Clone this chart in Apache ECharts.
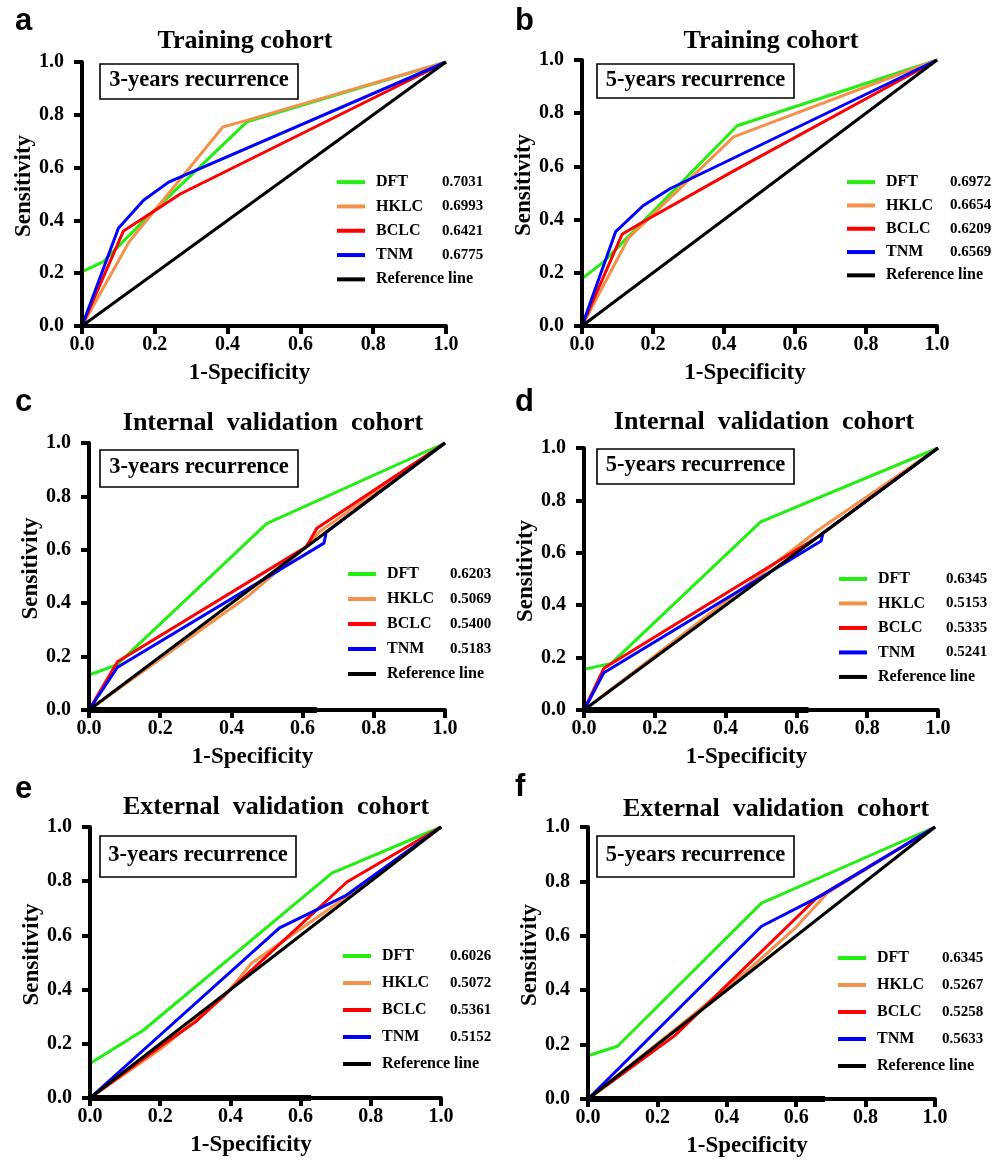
<!DOCTYPE html>
<html>
<head>
<meta charset="utf-8">
<script src="https://cdn.jsdelivr.net/npm/echarts@6/dist/echarts.min.js"></script>
<style>
  html, body { margin: 0; padding: 0; background: #fff; }
  #roc { width: 1003px; height: 1161px; }
</style>
</head>
<body>
<div id="roc"></div>
<script>
// panel labels and texts
var letters = ['a', 'b', 'c', 'd', 'e', 'f'];
var titles = ['Training cohort', 'Training cohort',
  'Internal  validation  cohort', 'Internal  validation  cohort',
  'External  validation  cohort', 'External  validation  cohort'];
var insets = ['3-years recurrence', '5-years recurrence', '3-years recurrence',
  '5-years recurrence', '3-years recurrence', '5-years recurrence'];
var models = ['DFT', 'HKLC', 'BCLC', 'TNM', 'Reference line'];
var ticks = [0, 0.2, 0.4, 0.6, 0.8, 1.0];

// AUC per panel (DFT, HKLC, BCLC, TNM)
var aucA = ['0.7031', '0.6993', '0.6421', '0.6775'];
var aucB = ['0.6972', '0.6654', '0.6209', '0.6569'];
var aucC = ['0.6203', '0.5069', '0.5400', '0.5183'];
var aucD = ['0.6345', '0.5153', '0.5335', '0.5241'];
var aucE = ['0.6026', '0.5072', '0.5361', '0.5152'];
var aucF = ['0.6345', '0.5267', '0.5258', '0.5633'];

// ROC points [1-specificity, sensitivity]
var dftA = [[0,0],[0,0.205],[0.06,0.245],[0.12,0.33],[0.2,0.44],[0.453,0.773],[1,1]];
var hklcA = [[0,0],[0.13,0.32],[0.387,0.754],[0.45,0.778],[1,1]];
var bclcA = [[0,0],[0.114,0.36],[0.17,0.41],[0.27,0.5],[1,1]];
var tnmA = [[0,0],[0.1,0.37],[0.169,0.476],[0.238,0.545],[1,1]];

var dftB = [[0,0],[0,0.178],[0.06,0.24],[0.437,0.753],[1,1]];
var hklcB = [[0,0],[0.131,0.331],[0.427,0.711],[1,1]];
var bclcB = [[0,0],[0.113,0.345],[0.17,0.39],[0.43,0.585],[1,1]];
var tnmB = [[0,0],[0.095,0.355],[0.172,0.452],[0.249,0.517],[1,1]];

var dftC = [[0,0],[0,0.131],[0.078,0.169],[0.499,0.698],[1,1]];
var hklcC = [[0,0],[0.45,0.43],[0.6,0.6],[0.65,0.67],[1,1]];
var bclcC = [[0,0],[0.08,0.181],[0.611,0.612],[0.64,0.681],[1,1]];
var tnmC = [[0,0],[0.08,0.16],[0.66,0.625],[0.665,0.656],[0.665,0.665],[1,1]];

var dftD = [[0,0],[0,0.155],[0.077,0.178],[0.499,0.718],[1,1]];
var hklcD = [[0,0],[0.3,0.31],[0.66,0.685],[1,1]];
var bclcD = [[0,0],[0.056,0.159],[0.66,0.66],[1,1]];
var tnmD = [[0,0],[0.056,0.142],[0.67,0.645],[0.675,0.675],[1,1]];

var dftE = [[0,0],[0,0.127],[0.152,0.25],[0.689,0.83],[1,1]];
var hklcE = [[0,0],[0.2,0.18],[0.38,0.372],[0.461,0.498],[0.73,0.742],[1,1]];
var bclcE = [[0,0],[0.2,0.19],[0.3,0.28],[0.4,0.4],[0.732,0.797],[1,1]];
var tnmE = [[0,0],[0.54,0.628],[0.73,0.748],[1,1]];

var dftF = [[0,0],[0,0.159],[0.085,0.194],[0.5,0.72],[1,1]];
var hklcF = [[0,0],[0.25,0.255],[0.467,0.48],[0.6,0.632],[0.69,0.757],[1,1]];
var bclcF = [[0,0],[0.25,0.233],[0.659,0.739],[1,1]];
var tnmF = [[0,0],[0.5,0.635],[0.668,0.745],[1,1]];

var refLine = [[0,0],[1,1]];
// thick stub along the x axis in panels c-f
var stubC = [[0,0],[0.64,0]];
var stubD = [[0,0],[0.634,0]];
var stubE = [[0,0],[0.63,0]];
var stubF = [[0,0],[0.683,0]];

var curves = [
  [dftA, hklcA, bclcA, tnmA],
  [dftB, hklcB, bclcB, tnmB],
  [dftC, hklcC, bclcC, tnmC],
  [dftD, hklcD, bclcD, tnmD],
  [dftE, hklcE, bclcE, tnmE],
  [dftF, hklcF, bclcF, tnmF]
];
var aucs = [aucA, aucB, aucC, aucD, aucE, aucF];
var stubs = [null, null, stubC, stubD, stubE, stubF];

var COLORS = ['#22ee11', '#f4914a', '#ff0000', '#0000ff', '#000000'];
var SERIF = '"Liberation Serif", "Times New Roman", serif';
var SANS = '"Liberation Sans", Arial, sans-serif';

// layout per panel
var GRIDS = [
  {left: 82, top: 62, width: 364, height: 264},
  {left: 582, top: 60, width: 355, height: 266},
  {left: 89, top: 443, width: 356, height: 267},
  {left: 584, top: 448, width: 354, height: 262},
  {left: 90, top: 827, width: 351, height: 271},
  {left: 588, top: 827, width: 347, height: 272}
];
var LETTER_POS = [[15, 21], [515, 21], [15, 402], [515, 402], [15, 789], [515, 787]];
var TITLE_POS = [[245, 41], [771, 41], [273, 423], [764, 422], [276, 807], [776, 809]];
var BOXES = [
  {x: 100, y: 64, w: 198, h: 35},
  {x: 597, y: 64, w: 197, h: 34},
  {x: 100, y: 450, w: 198, h: 37},
  {x: 597, y: 449, w: 197, h: 35},
  {x: 100, y: 836, w: 196, h: 41},
  {x: 597, y: 836, w: 197, h: 41}
];
var LEGENDS = [
  {left: 337, top: 170, row: 24.3, col: 66},
  {left: 847, top: 170.5, row: 23.3, col: 64},
  {left: 348, top: 561.5, row: 25, col: 63},
  {left: 839, top: 566.7, row: 24.5, col: 68},
  {left: 343, top: 942.5, row: 27, col: 68},
  {left: 838, top: 944.5, row: 27, col: 65}
];

var ROC = {
  chart: null,

  ini: function(){
    this.chart = echarts.init(document.getElementById('roc'), null, {renderer: 'canvas'});
    var option = {
      animation: false,
      backgroundColor: '#ffffff',
      grid: [],
      xAxis: [],
      yAxis: [],
      legend: [],
      series: [],
      graphic: []
    };
    for(var i = 0; i < 6; i++){
      this.addPanel(option, i);
    }
    this.chart.setOption(option);
  },

  axisBase: function(i){
    return {
      type: 'value',
      gridIndex: i,
      min: 0,
      max: 1,
      interval: 0.2,
      splitLine: {show: false},
      axisLine: {show: true, onZero: false, lineStyle: {color: '#000', width: 4}},
      axisTick: {show: true, length: 8, lineStyle: {color: '#000', width: 4}},
      nameTextStyle: {color: '#000', fontFamily: SERIF, fontWeight: 'bold', fontSize: 23}
    };
  },

  addPanel: function(option, i){
    var g = GRIDS[i];
    option.grid.push({left: g.left, top: g.top, width: g.width, height: g.height, containLabel: false});

    var xa = this.axisBase(i);
    xa.name = '1-Specificity';
    xa.nameLocation = 'middle';
    xa.nameGap = 36;
    xa.nameTextStyle.padding = [0, 29, 0, 0];
    xa.axisLabel = {color: '#000', fontFamily: SERIF, fontWeight: 'bold', fontSize: 20, margin: 9,
      formatter: function(v){ return v.toFixed(1); }};
    option.xAxis.push(xa);

    var ya = this.axisBase(i);
    ya.name = 'Sensitivity';
    ya.nameLocation = 'middle';
    ya.nameGap = 46;
    ya.z = 10;
    ya.nameTextStyle.padding = [0, 0, 0, 16];
    ya.axisLabel = {color: '#000', fontFamily: SERIF, fontWeight: 'bold', fontSize: 20, margin: 18,
      formatter: function(v){ return v.toFixed(1); }};
    option.yAxis.push(ya);

    // ROC curves
    for(var k = 0; k < 4; k++){
      option.series.push({
        name: models[k], type: 'line', xAxisIndex: i, yAxisIndex: i,
        data: curves[i][k], showSymbol: false, symbol: 'none', silent: true, z: 2 + k,
        lineStyle: {color: COLORS[k], width: 3}, itemStyle: {color: COLORS[k]}
      });
    }
    option.series.push({
      name: models[4], type: 'line', xAxisIndex: i, yAxisIndex: i,
      data: refLine, showSymbol: false, symbol: 'none', silent: true, z: 7,
      lineStyle: {color: '#000', width: 3}, itemStyle: {color: '#000'}
    });
    if(stubs[i]){
      option.series.push({
        name: 'stub' + i, type: 'line', xAxisIndex: i, yAxisIndex: i,
        data: stubs[i], showSymbol: false, symbol: 'none', silent: true, z: 8,
        lineStyle: {color: '#000', width: 6, cap: 'butt'}
      });
    }

    // legend with AUC column
    var L = LEGENDS[i];
    var auc = aucs[i];
    option.legend.push({
      orient: 'vertical',
      left: L.left,
      top: L.top,
      padding: 0,
      itemGap: 0,
      itemWidth: 28,
      itemHeight: 4,
      icon: 'rect',
      selectedMode: false,
      data: models.slice(),
      formatter: function(name){
        var idx = models.indexOf(name);
        if(idx == 4){
          return '{s|}{n|' + name + '}';
        }
        return '{s|}{n|' + name + '}{v|' + auc[idx] + '}';
      },
      textStyle: {
        color: '#000', fontFamily: SERIF, fontWeight: 'bold', fontSize: 16, lineHeight: L.row,
        rich: {
          s: {width: 6, lineHeight: L.row},
          n: {width: L.col, color: '#000', fontFamily: SERIF, fontWeight: 'bold', fontSize: 16, lineHeight: L.row},
          v: {color: '#000', fontFamily: SERIF, fontWeight: 'bold', fontSize: 15, lineHeight: L.row}
        }
      }
    });

    // panel letter, title, inset box
    option.graphic.push({
      type: 'text', x: LETTER_POS[i][0], y: LETTER_POS[i][1], silent: true,
      style: {text: letters[i], font: 'bold 31px ' + SANS, fill: '#000', textAlign: 'left', textVerticalAlign: 'middle'}
    });
    option.graphic.push({
      type: 'text', x: TITLE_POS[i][0], y: TITLE_POS[i][1], silent: true,
      style: {text: titles[i], font: 'bold 26px ' + SERIF, fill: '#000', textAlign: 'center', textVerticalAlign: 'middle'}
    });
    var b = BOXES[i];
    option.graphic.push({
      type: 'rect', silent: true, z: 10,
      shape: {x: b.x, y: b.y, width: b.w, height: b.h},
      style: {fill: '#fff', stroke: '#000', lineWidth: 1.6}
    });
    option.graphic.push({
      type: 'text', silent: true, z: 11,
      x: b.x + b.w / 2, y: b.y + b.h / 2 - 1,
      style: {text: insets[i], font: 'bold 22.5px ' + SERIF, fill: '#000', textAlign: 'center', textVerticalAlign: 'middle'}
    });
  }
};

ROC.ini();
</script>
</body>
</html>
